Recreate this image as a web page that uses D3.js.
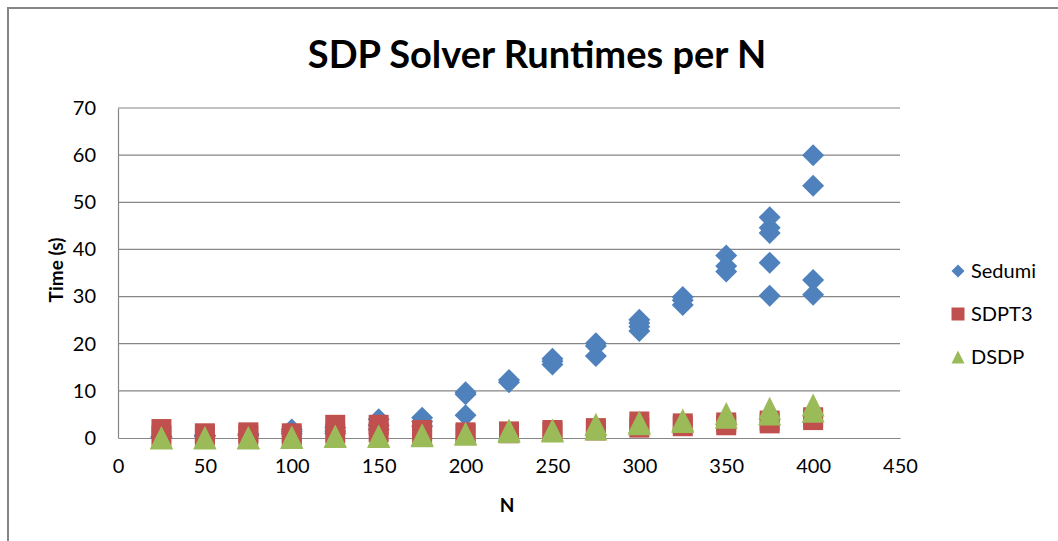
<!DOCTYPE html>
<html>
<head>
<meta charset="utf-8">
<script src="https://cdn.jsdelivr.net/npm/d3@7"></script>
<style>
  html, body { margin: 0; padding: 0; background: #fff; }
  svg { display: block; }
  text { font-family: Lato, "Open Sans", sans-serif; fill: #000; }
</style>
</head>
<body>
<svg id="chart" width="1058" height="541"></svg>
<script>
// Problem sizes (N) at which each solver was timed
const nValues = [25, 50, 75, 100, 125, 150, 175, 200, 225, 250, 275, 300, 325, 350, 375, 400];

// Runtimes in seconds, several runs per N (same order as nValues)
const sedumiTimes = [
  [0.1, 0.2, 0.3], [0.3, 0.5, 0.6], [0.5, 0.7, 0.9], [0.9, 1.3, 1.8],
  [1.0, 1.5, 2.2], [1.8, 2.7, 4.0], [2.5, 3.5, 4.3], [4.8, 9.3, 9.7],
  [11.8, 12.3], [15.6, 16.3, 16.8], [17.4, 19.5, 20.1], [22.7, 23.6, 24.4, 25.1],
  [28.2, 29.2, 29.9], [35.3, 36.5, 38.7], [30.2, 37.2, 43.5, 44.6, 46.8], [30.4, 33.5, 53.5, 60.0]
];
const sdpt3Times = [
  [0.5, 1.9], [0.5, 1.0], [0.6, 1.2], [0.4, 1.0],
  [1.0, 2.8], [1.2, 2.8], [0.9, 1.7], [0.8, 1.2],
  [1.0, 1.4], [1.3, 1.7], [1.6, 2.1], [2.2, 3.5],
  [2.5, 3.1], [2.7, 3.3], [3.1, 3.7], [3.8, 4.4]
];
const dsdpTimes = [
  [0.0, 0.1], [0.0, 0.1], [0.0, 0.1], [0.1, 0.2],
  [0.3, 0.4], [0.3, 0.4], [0.5, 0.7], [0.8, 1.0],
  [1.4, 1.7], [1.5, 1.7], [1.9, 2.9], [3.0, 3.4],
  [3.5, 3.8], [4.4, 5.2], [5.1, 6.3], [5.7, 7.0]
];

const seriesNames = ["Sedumi", "SDPT3", "DSDP"];
const seriesColors = ["#4F81BD", "#C0504D", "#9BBB59"];

// marker shapes: "size" here is the width of the marker's bounding box
const diamond = { draw(ctx, s) { const h = s / 2; ctx.moveTo(0, -h); ctx.lineTo(h, 0); ctx.lineTo(0, h); ctx.lineTo(-h, 0); ctx.closePath(); } };
const square = { draw(ctx, s) { const h = s / 2; ctx.rect(-h, -h, s, s); } };
const triangle = { draw(ctx, s) { const h = s / 2; ctx.moveTo(0, -h); ctx.lineTo(h, h); ctx.lineTo(-h, h); ctx.closePath(); } };
const seriesShapes = [diamond, square, triangle];

const xTicks = [0, 50, 100, 150, 200, 250, 300, 350, 400, 450];
const yTicks = [0, 10, 20, 30, 40, 50, 60, 70];

const titleText = "SDP Solver Runtimes per N";
const xTitle = "N";
const yTitle = "Time (s)";

const svg = d3.select("#chart");

// chart frame
svg.append("rect")
  .attr("x", 8).attr("y", 8).attr("width", 1100).attr("height", 600)
  .attr("fill", "#fff").attr("stroke", "#868686").attr("stroke-width", 2);

const x = d3.scaleLinear().domain([0, 450]).range([118, 900]);
const y = d3.scaleLinear().domain([0, 70]).range([438, 108]);

// horizontal gridlines
svg.append("g")
  .selectAll("line")
  .data(yTicks.filter(t => t > 0))
  .join("line")
  .attr("x1", x(0)).attr("x2", x(450))
  .attr("y1", d => y(d)).attr("y2", d => y(d))
  .attr("stroke", "#868686").attr("stroke-width", 1.2);

// axes
const yAxis = svg.append("g")
  .attr("transform", `translate(${x(0)},0)`)
  .call(d3.axisLeft(y).tickValues(yTicks).tickSize(0).tickPadding(22));
const xAxis = svg.append("g")
  .attr("transform", `translate(0,${y(0)})`)
  .call(d3.axisBottom(x).tickValues(xTicks).tickSize(0).tickPadding(21));

[xAxis, yAxis].forEach(g => {
  g.select(".domain").attr("stroke", "#868686").attr("stroke-width", 1.2);
  g.selectAll("text")
    .attr("font-family", "Lato, sans-serif")
    .attr("font-size", 20)
    .attr("fill", "#000");
});

// markers: each series drawn after the previous one
const sizes = [22, 20, 23];
const allSeries = [sedumiTimes, sdpt3Times, dsdpTimes];
allSeries.forEach((runs, si) => {
  const pts = [];
  runs.forEach((vals, i) => vals.forEach(v => pts.push({ n: nValues[i], t: v })));
  svg.append("g")
    .selectAll("path")
    .data(pts)
    .join("path")
    .attr("transform", d => `translate(${x(d.n)},${y(d.t)})`)
    .attr("d", d3.symbol().type(seriesShapes[si]).size(sizes[si]))
    .attr("fill", seriesColors[si]);
});

// title
svg.append("text")
  .attr("x", 537).attr("y", 68)
  .attr("text-anchor", "middle")
  .attr("font-size", 38).attr("font-weight", "bold")
  .text(titleText);

// axis titles
svg.append("text")
  .attr("x", 507).attr("y", 512)
  .attr("text-anchor", "middle")
  .attr("font-size", 19).attr("font-weight", "bold")
  .text(xTitle);
svg.append("text")
  .attr("transform", "translate(63,270) rotate(-90)")
  .attr("text-anchor", "middle")
  .attr("font-size", 19).attr("font-weight", "bold")
  .text(yTitle);

// legend
const legend = svg.append("g");
seriesNames.forEach((name, i) => {
  const ly = 271 + i * 43;
  legend.append("path")
    .attr("transform", `translate(958,${ly})`)
    .attr("d", d3.symbol().type(seriesShapes[i]).size(13))
    .attr("fill", seriesColors[i]);
  legend.append("text")
    .attr("x", 971).attr("y", ly + 7)
    .attr("font-size", 20)
    .text(name);
});
</script>
</body>
</html>
